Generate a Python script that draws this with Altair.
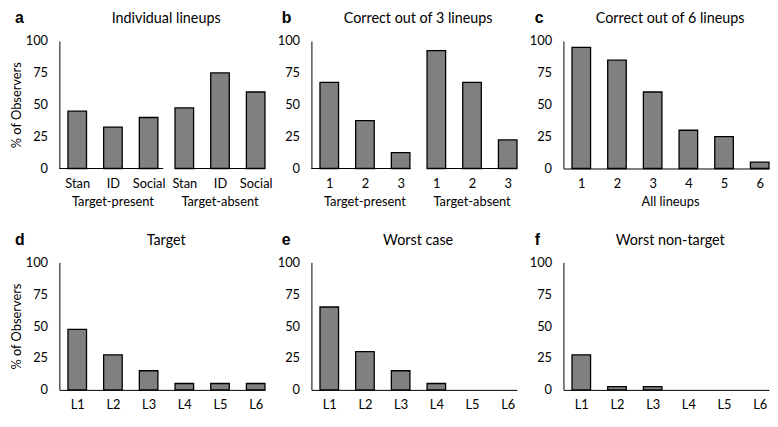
import altair as alt
import pandas as pd

FONT = "Lato"
LETTER_FONT = "Liberation Sans"
W, H = 208, 129
BAR_HALF = 0.26
X_DOMAIN = [0.5, 6.26]

# ---- data ----
letters = ["a", "b", "c", "d", "e", "f"]
titles = ["Individual lineups", "Correct out of 3 lineups", "Correct out of 6 lineups",
          "Target", "Worst case", "Worst non-target"]

labels_a = ["Stan", "ID", "Social", "Stan", "ID", "Social"]
labels_b = ["1", "2", "3", "1", "2", "3"]
labels_c = ["1", "2", "3", "4", "5", "6"]
labels_def = ["L1", "L2", "L3", "L4", "L5", "L6"]

values_a = [45, 32.5, 40, 47.5, 75, 60]
values_b = [67.5, 37.5, 12.5, 92.5, 67.5, 22.5]
values_c = [95, 85, 60, 30, 25, 5]
values_d = [47.5, 27.5, 15, 5, 5, 5]
values_e = [65, 30, 15, 5, 0, 0]
values_f = [27.5, 2.5, 2.5, 0, 0, 0]

groups_tp_ta = ["Target-present", "Target-absent"]
groups_all = ["All lineups"]
members_tp_ta = [[1, 2, 3], [4, 5, 6]]
members_all = [[1, 2, 3, 4, 5, 6]]

panels_spec = [
    ("a", titles[0], labels_a, values_a, groups_tp_ta, members_tp_ta, 0.15),
    ("b", titles[1], labels_b, values_b, groups_tp_ta, members_tp_ta, 0.02),
    ("c", titles[2], labels_c, values_c, groups_all, members_all, None),
    ("d", titles[3], labels_def, values_d, [], [], None),
    ("e", titles[4], labels_def, values_e, [], [], None),
    ("f", titles[5], labels_def, values_f, [], [], None),
]
letter_x = [-45, -30, -29]


def make_panel(k, title, labs, vals, gnames, gmembers, split_ext, col):
    idx = list(range(1, len(labs) + 1))
    df = pd.DataFrame({"i": idx, "v": vals})
    split = split_ext is not None
    xscale = alt.Scale(domain=X_DOMAIN, nice=False, zero=False)
    yscale = alt.Scale(domain=[0, 100], nice=False)
    label_expr = "[" + ",".join("'" + s + "'" for s in labs) + "][datum.value - 1]"
    xaxis = alt.Axis(values=idx, labelExpr=label_expr, title=None, grid=False,
                     ticks=False, tickSize=0, domain=not split, domainColor="black",
                     domainWidth=1, labelFont=FONT, labelFontSize=13, labelColor="black",
                     labelPadding=9, labelFlush=False, labelOverlap=False, labelBound=False)
    yaxis = alt.Axis(values=[0, 25, 50, 75, 100],
                     title="% of Observers" if col == 0 else None,
                     grid=False, ticks=False, tickSize=0, domainColor="black", domainWidth=1,
                     labelFont=FONT, labelFontSize=13, labelColor="black", labelPadding=12,
                     titleFont=FONT, titleFontSize=13, titleFontWeight="normal",
                     titleColor="black", titlePadding=2, labelFlush=False)
    bars = alt.Chart(df).transform_filter("datum.v > 0").transform_calculate(
        x0=f"datum.i - {BAR_HALF}", x1=f"datum.i + {BAR_HALF}"
    ).mark_rect(fill="#808080", stroke="black", strokeWidth=1.3).encode(
        x=alt.X("x0:Q", scale=xscale, axis=xaxis),
        x2="x1:Q",
        y=alt.Y("v:Q", scale=yscale, axis=yaxis),
        y2=alt.datum(0),
    )
    layers = [bars]
    if split:
        starts, ends = [], []
        for gi, mem in enumerate(gmembers):
            if gi == 0:
                starts.append(X_DOMAIN[0])
                ends.append(max(mem) + BAR_HALF + split_ext)
            else:
                starts.append(min(mem) - BAR_HALF)
                ends.append(max(mem) + BAR_HALF)
        rdf = pd.DataFrame({"s": starts, "e": ends, "z": [0] * len(starts)})
        layers.append(alt.Chart(rdf).mark_rule(color="black", strokeWidth=1).encode(
            x=alt.X("s:Q", scale=xscale, axis=xaxis),
            x2="e:Q",
            y=alt.Y("z:Q", scale=yscale, axis=yaxis),
        ))
    if gnames:
        centers = [sum(m) / len(m) for m in gmembers]
        gdf = pd.DataFrame({"g": gnames, "c": centers})
        layers.append(alt.Chart(gdf).mark_text(font=FONT, fontSize=13, color="black",
                                               baseline="middle").encode(
            x=alt.X("c:Q", scale=xscale, axis=xaxis),
            y=alt.value(H + 34),
            text="g:N",
        ))
    tdf = pd.DataFrame({"letter": [k], "title": [title]})
    layers.append(alt.Chart(tdf).mark_text(font=LETTER_FONT, fontSize=16, fontWeight="bold",
                                           align="left", baseline="alphabetic",
                                           color="black").encode(
        x=alt.value(letter_x[col]),
        y=alt.value(-18),
        text="letter:N",
    ))
    layers.append(alt.Chart(tdf).mark_text(font=FONT, fontSize=14.5, align="center",
                                           baseline="alphabetic", color="black").encode(
        x=alt.value(W / 2 + 4),
        y=alt.value(-18),
        text="title:N",
    ))
    return alt.layer(*layers).properties(width=W, height=H)


panels = [make_panel(k, t, l, v, g, m, s, n % 3)
          for n, (k, t, l, v, g, m, s) in enumerate(panels_spec)]

chart = alt.concat(*panels, columns=3,
                   spacing=alt.RowColnumber(row=95, column=47),
                   bounds="flush").properties(
    padding={"left": 2, "top": 0, "right": 0, "bottom": 0}, background="white"
).configure_view(stroke=None)

chart.save("out.html", embed_options={"renderer": "svg", "actions": False})
